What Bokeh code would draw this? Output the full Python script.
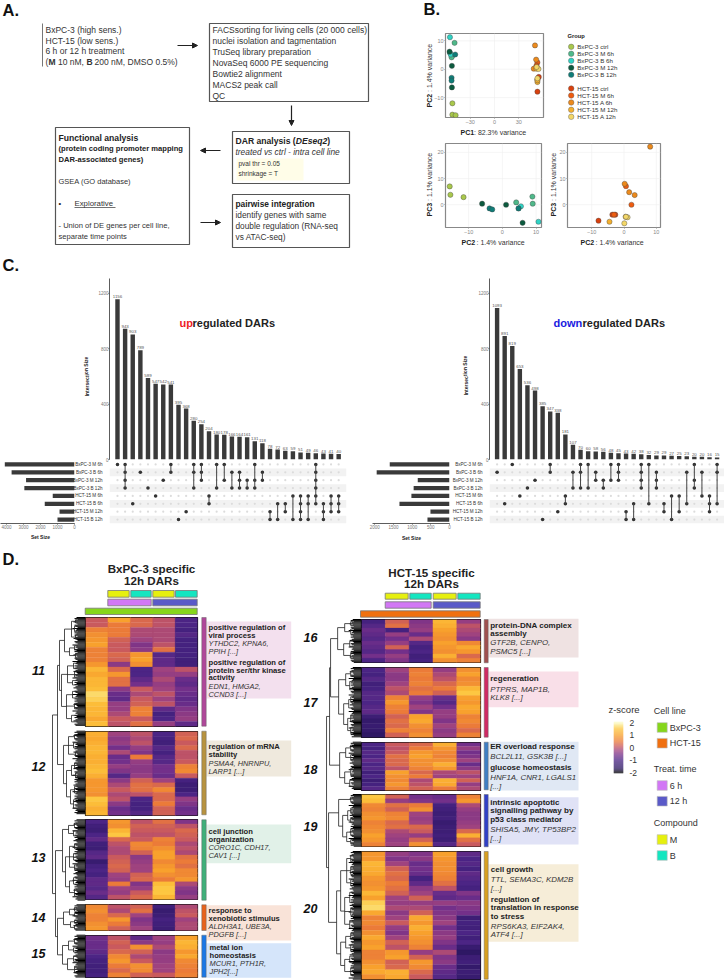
from bokeh.plotting import figure
from bokeh.layouts import column
from bokeh.models import Range1d, FixedTicker, LinearAxis, Arrow, NormalHead, LinearColorMapper, ColumnDataSource
from bokeh.core.properties import value
from bokeh.embed import file_html
from bokeh.resources import INLINE

FONT = "Liberation Sans"

# ---------- Panel B data ----------
groups = ["BxPC-3 ctrl", "BxPC-3 M 6h", "BxPC-3 B 6h", "BxPC-3 M 12h", "BxPC-3 B 12h",
          "HCT-15 ctrl", "HCT-15 M 6h", "HCT-15 A 6h", "HCT-15 M 12h", "HCT-15 A 12h"]
group_colors = ["#a9c84c", "#4fb98a", "#2fd3c5", "#0b5a3e", "#0f7d78",
                "#d8400e", "#ee5c10", "#ec8a1c", "#f4b02e", "#f3d768"]
pc1_x = [[-52, -52, -48], [-49.3, -52.6, -53], [-55, -55, -54], [-55.5, -52.6, -52.6], [-48.5, -53, -53],
         [54.7, 53, 53], [53, 51.8, 52], [50, 51.4, 48.5], [53, 51.8, 53], [54.3, 53, 52]]
pc1_y = [[-12, -16, -16.2], [9.3, 4.5, 4.2], [11.3, 5.8, 5.2], [6.2, 1.2, -6.4], [5.2, -3, -4],
         [-2.7, -3.6, -7.9], [2.4, 1.3, 0.6], [8.4, 3.4, 0.2], [-4.5, 0.2, -3.9], [0.1, -3.2, 0.8]]
pc2_x = [[-15.6, -15.4, -11.5], [4.1, 8.9, 9], [5.5, 4.8, 10.7], [-6, 1.1, 6], [-3.8, -3, 4.8]]
pc2_y = [[7, 3.8, 2.9], [0.9, 3.1, 0.4], [-0.6, -1.4, -6.5], [0.4, 0, -6.9], [-1.4, -1.8, -1.4]]
pc3_x = [[-7.9, -3.6, -2.7], [0.6, -3.1, 2.3], [8.1, 0.2, 1.6, 3.3], [-4.5, 0.5], [0.1, 1.1, 0.6]]
pc3_y = [[-6.1, -3.8, -3.8], [7.1, -3.8, 0], [22.2, 8, 4.8, 3.7], [-6.5, -4.6], [-7.1, -4.8, -4.6]]

# ---------- Panel C data ----------
up_values = [1156, 943, 903, 789, 589, 547, 542, 541, 395, 368, 280, 254, 204, 180, 178,
             166, 164, 161, 131, 118, 78, 72, 63, 59, 51, 49, 46, 43, 41, 40]
up_sets = [[0], [0, 1, 2, 3], [5], [1], [3], [4], [2], [0, 1], [7], [6], [0, 1, 3], [0, 1, 2], [4, 5], [0, 3], [0, 2],
           [1, 3], [1, 2, 3], [2, 3], [0, 2, 3], [1, 2], [6, 7], [5, 7], [5, 6], [4, 7], [4, 5, 6, 7], [4, 5, 7],
           [0, 1, 2, 3, 4, 5], [5, 6, 7], [4, 5, 6], [4, 5, 6]]
up_set_sizes = [4100, 3700, 2850, 2950, 1280, 1750, 880, 1000]
up_set_names = ["BxPC-3 M 6h", "BxPC-3 B 6h", "BxPC-3 M 12h", "BxPC-3 B 12h",
                "HCT-15 M 6h", "HCT-15 B 6h", "HCT-15 M 12h", "HCT-15 B 12h"]
down_values = [1093, 891, 819, 653, 536, 498, 385, 347, 338, 181, 107, 70, 60, 58, 56,
               48, 45, 43, 42, 38, 32, 29, 29, 27, 25, 23, 20, 20, 16, 15]
down_sets = [[1], [5], [0], [4], [3], [2], [7], [0, 1], [6], [4, 5], [1, 3], [0, 1, 3], [0, 3], [1, 2], [2, 3],
             [0, 2], [0, 1, 2], [6, 7], [5, 7], [0, 1, 2, 3], [0, 5], [1, 2, 3], [5, 6], [4, 7], [4, 6], [1, 5],
             [0, 2, 3], [1, 4], [4, 5, 6], [0, 1, 5]]
down_set_sizes = [1600, 1950, 850, 960, 1020, 1340, 510, 590]

# ---------- Panel D data (z-score x 10) ----------
heat_11 = [[1, 10, 3, 0, -10], [1, 5, 3, 0, -10], [6, 5, -1, -1, -11], [8, 5, -1, -1, -9], [9, 2, -2, -1, -11],
           [10, 1, -5, 0, -11], [6, 1, -4, 4, -11], [6, 3, 9, -9, -11], [6, 2, 10, -8, -12], [9, -4, 8, -8, -12],
           [13, 3, -10, -2, 0], [11, 9, -10, -3, -3], [13, 4, -8, -1, -7], [13, 4, -6, -3, -8], [14, -4, 1, -2, -6],
           [17, -7, -1, 0, -7], [16, -8, 1, -2, -8], [14, -3, 2, 0, -7], [13, -3, 6, -8, -5], [13, -1, 6, -11, -4],
           [11, 1, 1, -10, -3], [14, 0, 4, -3, -8]]
heat_12 = [[12, -2, 0, -10, 2], [11, -4, -1, -11, 3], [12, -3, 0, -12, 1], [13, -6, -3, -9, 3], [13, -1, -5, -11, 0],
           [12, -7, 5, -9, 0], [12, -6, -3, -9, 1], [13, -3, -4, -6, 6], [14, -5, -4, -6, 7], [12, -9, -3, -7, 1],
           [9, -4, 2, -2, -11], [9, -1, 4, 3, -13], [9, 1, 4, 7, -13], [8, -1, 0, 3, -10], [15, 0, -10, 3, -3],
           [14, -4, -11, 5, -5], [12, -7, -11, 2, -7], [13, -6, -9, 2, -6]]
heat_13 = [[-10, 9, 0, 4, -5], [-12, 8, 2, 2, 0], [-13, 13, 1, 1, 3], [-10, 15, 0, 0, 2], [-8, 3, 1, 6, 1],
           [-12, 0, 7, 5, -1], [-13, -1, 6, 8, 0], [-9, -1, 2, 10, -1], [-8, 1, -4, 10, 4], [-14, 2, -3, 7, 5],
           [-11, 3, -2, 9, 4], [-10, 2, -2, 10, 7], [-11, -2, 2, 8, 7], [-8, -3, 3, 5, 9], [-8, 5, -5, 14, -1],
           [-9, -2, -3, 15, -4], [-7, -3, 1, 15, -5], [-9, 0, 3, 13, -3]]
heat_14 = [[7, 0, 2, -12, -1], [8, -1, 4, -14, 0], [6, 3, -2, -13, 1], [6, 9, -5, -11, -2], [8, 5, -4, -12, -1],
           [9, 2, -2, -13, -1]]
heat_15 = [[-6, 0, -8, -2, 10], [-7, 2, -4, -3, 13], [-7, 1, 8, -1, 12], [-8, 3, 2, -4, 9], [-10, 7, -1, -3, 11],
           [-11, 9, 1, -3, 7], [-12, 5, 8, -2, 6], [-12, 3, 7, -2, 5], [-11, 6, 2, 1, 6]]
heat_16 = [[-11, 2, -5, 13, -3], [-9, 4, -4, 12, 0], [-7, -11, -3, 10, -1], [-8, -3, -7, 9, -2], [-9, -6, -1, 8, -4],
           [-7, -3, -9, 10, 7], [-8, 2, -11, 9, 11], [-9, -6, -10, 8, 9], [-6, -3, -12, 12, 3], [-10, -5, -11, 8, 6]]
heat_17 = [[-10, -2, 5, -3, 8], [-11, -4, 6, -1, 10], [-9, -4, 5, 0, 7], [-12, -2, 6, 3, 8], [-11, 0, 4, 5, 13],
           [-9, -1, 5, 2, 15], [-9, 6, -3, -7, 10], [-10, 9, -5, -9, 9], [-9, 6, -2, -6, 11], [-8, 5, -5, -3, 10],
           [-13, 2, 10, -3, 6], [-15, 4, 11, -5, 7], [-14, 3, 8, -2, 5], [-15, 6, 6, -4, 3], [-16, 2, 8, -3, 6]]
heat_18 = [[-10, 1, 3, 12, -6], [-11, 0, 5, 9, -3], [-9, 1, 9, 7, -6], [-10, 4, 10, 6, -5], [-8, 3, 8, 8, -2],
           [-10, 3, 8, 12, -7], [-9, 0, 6, 9, -4], [-12, 10, 3, -1, 0], [-10, 8, 5, -2, -2], [-13, 7, -1, 12, 2],
           [-11, 9, 0, 11, -3], [-9, 6, 2, 5, -1]]
heat_19 = [[15, 2, -6, -7, 6], [14, -3, -5, -6, 9], [7, 4, 5, -11, -1], [6, 2, 8, -12, -3], [8, 6, -2, -13, -4],
           [9, 7, -3, -12, -4], [6, 3, -2, -14, -3], [7, 4, 3, -13, -2], [8, -1, 1, -13, 3], [10, -2, -3, -12, 12],
           [9, -3, 2, -13, 4], [6, -2, 8, -9, 1]]
heat_20 = [[9, -3, -5, 10, -8], [9, -5, -4, 9, -10], [13, -2, -7, 8, -9], [12, 2, -6, 8, -11], [11, 4, -7, 7, -8],
           [9, 3, -11, 6, -9], [8, 5, -8, 4, -10], [9, 4, -4, 0, -11], [13, 2, -2, -7, -5], [10, -2, 2, -8, -7],
           [16, -3, -3, -3, -4], [17, -1, -1, -6, -5], [11, -4, 2, -5, -6], [6, -2, 11, -4, -13], [7, 1, 9, -2, -11],
           [5, -3, 12, -6, -12], [8, -5, 10, -4, -10], [11, -2, 9, -3, -12], [9, 2, 8, -5, -10], [10, 0, 6, -7, -14],
           [6, 9, -3, -1, -16], [6, 10, 2, -5, -13], [8, 2, 9, -4, -12], [10, 3, 7, -7, -15], [11, 12, 3, -8, -13],
           [8, 11, 1, -9, -14]]

tree_11 = (18, (13, (6, (2, .02, .05), (3, .08, .13), (2, .16, .2)), (8, (3, .26, .3), (2, .33, .37))),
           (16, (10, (4, .42, .47), (3, .5, .55), (5, .58, .62)), (11, (5, .68, .74), (3, .79, .84), (6, .9, .96))))
tree_12 = (14, (9, (3, .04, .09), (4, .14, .2), (2, .25, .3)), (11, (6, (3, .38, .44), (2, .5, .56)), (7, (3, .66, .74), (4, .82, .92))))
tree_13 = (15, (9, (3, .04, .1), (4, .14, .2)), (12, (8, (3, .3, .36), (4, .42, .5), (3, .56, .62)), (8, (4, .72, .8), (3, .86, .95))))
tree_14 = (14, (8, (3, .1, .25), (3, .33, .45)), (7, (3, .6, .72), (3, .82, .94)))
tree_15 = (15, (9, (3, .08, .2), (4, .3, .4)), (10, (4, .5, .62), (3, .74, .9)))
tree_16 = (16, (9, (3, .05, .14), (3, .22, .34)), (10, (4, .5, .62), (3, .76, .9)))
tree_17 = (15, (8, (3, .05, .13), (4, .2, .32)), (10, (5, (3, .42, .5), .58), (6, (3, .68, .78), (3, .86, .95))))
tree_18 = (14, (8, (3, .06, .18), (3, .26, .38)), (9, (3, .55, .7), (4, .8, .93)))
tree_19 = (15, (3, .05, .14), (11, (6, (3, .26, .36), (3, .44, .54)), (7, (3, .66, .78), (3, .86, .94))))
tree_20 = (17, (13, (7, (3, .03, .08), (3, .12, .18), (3, .22, .27)), (9, (4, .32, .4), (3, .44, .5), (4, .54, .6))),
            (13, (8, (3, .64, .69), (3, .73, .78)), (9, (4, .82, .87), (3, .91, .97))))
comb_lengths = [1, 3, 0, 2, 4, 1, 0, 3, 2, 0, 5, 1, 2, 0, 3]

left_clusters = [("11", 617, 725.7, heat_11, tree_11, "#b0479a"), ("12", 730.7, 814.3, heat_12, tree_12, "#b8933f"),
                 ("13", 819.3, 899.7, heat_13, tree_13, "#3fb07a"), ("14", 904.3, 930, heat_14, tree_14, "#e8621c"),
                 ("15", 934.7, 976.7, heat_15, tree_15, "#1a78e6")]
right_clusters = [("16", 619, 662.3, heat_16, tree_16, "#a05050"), ("17", 667, 736.7, heat_17, tree_17, "#d02a64"),
                  ("18", 741.7, 789.3, heat_18, tree_18, "#3f7fc4"), ("19", 794, 846.3, heat_19, tree_19, "#3040c8"),
                  ("20", 851, 978.7, heat_20, tree_20, "#d8a020")]

heat_stops = [(-2.0, "#000004"), (-1.7, "#2a1660"), (-1.0, "#4b2585"), (-0.6, "#74308a"), (-0.2, "#a0437f"),
              (0.1, "#c8595f"), (0.5, "#ea7a3a"), (1.0, "#f89f2c"), (1.5, "#fdc43c"), (1.8, "#fce27c"), (2.0, "#fcfbc8")]

legend_z_ticks = [2, 1, 0, -1, -2]
C_YELLOW, C_TEAL, C_PINK, C_BLUE, C_GREEN, C_ORANGE = "#e6f00f", "#14e6c0", "#d277f5", "#5a5ac8", "#86d61b", "#f07010"


def make_palette(stops, n=128):
    out = []
    for i in range(n):
        v = -2 + 4 * i / (n - 1)
        for (a, ca), (b, cb) in zip(stops, stops[1:]):
            if a <= v <= b:
                t = (v - a) / (b - a)
                rgb = [round(int(ca[k:k + 2], 16) * (1 - t) + int(cb[k:k + 2], 16) * t) for k in (1, 3, 5)]
                out.append("#%02x%02x%02x" % tuple(rgb))
                break
    return out


PALETTE = make_palette(heat_stops)
MAPPER = LinearColorMapper(palette=PALETTE, low=-2, high=2)
figs = []


def panel(x0, y0, x1, y1, xr, yr, outline=None, outline_w=1):
    # borders are transparent and wide enough for axes; the frame sits on x0..x1, y0..y1
    l, r, t, b = 40, 20, 20, 20
    f = figure(width=round(x1 - x0) + l + r, height=round(y1 - y0) + t + b,
               x_range=Range1d(*xr), y_range=Range1d(*yr),
               output_backend="svg", toolbar_location=None, tools="",
               x_axis_type=None, y_axis_type=None,
               min_border_left=l, min_border_right=r, min_border_top=t, min_border_bottom=b,
               background_fill_color=None, border_fill_color=None,
               outline_line_color=outline, outline_line_width=outline_w,
               styles={"position": "absolute", "left": f"{x0 - l}px", "top": f"{y0 - t}px"})
    f.grid.visible = False
    figs.append(f)
    return f


# ---------- page-level canvases for the schematic and text (four overlapping tiles) ----------
tile_tl = panel(0, 0, 600, 560, (0, 600), (560, 0))
tile_tr = panel(540, 0, 724, 560, (540, 724), (560, 0))
tile_bl = panel(0, 540, 600, 980, (0, 600), (980, 540))
tile_br = panel(540, 540, 724, 980, (540, 724), (980, 540))


def pg_at(x, y):
    if y < 540:
        return tile_tl if x <= 540 else tile_tr
    return tile_bl if x <= 540 else tile_br


def txt(x, y, s, size=8, style="normal", color="#222222", align="left", angle=0):
    pg_at(x, y).text([x], [y], text=[s], text_font=value(FONT), text_font_size=value(f"{size}px"), text_font_style=style,
                     text_color=color, text_align=align, text_baseline="middle", angle=angle)


def box(x0, y0, x1, y1, fill=None, line="#555555", lw=1.2):
    pg_at(x0, y0).quad(left=[x0], right=[x1], top=[y0], bottom=[y1], fill_color=fill, line_color=line, line_width=lw)


def arrow(x0, y0, x1, y1):
    pg_at(x0, y0).add_layout(Arrow(end=NormalHead(size=5, fill_color="#222222", line_color="#222222"),
                                   x_start=x0, y_start=y0, x_end=x1, y_end=y1, line_color="#222222", line_width=1.2))


for lab, x, y in [("A.", 2, 9), ("B.", 423, 8), ("C.", 2, 264), ("D.", 2, 558)]:
    txt(x, y, lab, 16.5, "bold", "#111111")

# Panel A
tile_tl.segment([42], [23], [42], [66], line_color="#777777", line_width=1)
for s, y in [("BxPC-3 (high sens.)", 29), ("HCT-15 (low sens.)", 40), ("6 h or 12 h treatment", 50)]:
    txt(45, y, s, 8.5, color="#333333")
for s, x, st in [("(", 45, "normal"), ("M", 48, "bold"), ("10 nM,", 57.5, "normal"), ("B", 86, "bold"),
                 ("200 nM, DMSO 0.5%)", 94, "normal")]:
    txt(x, 61, s, 8.5, st, "#333333")
arrow(177, 45, 197, 45)
box(209, 23, 368, 101)
for s, y in [("FACSsorting for living cells (20 000 cells)", 29.5), ("nuclei isolation and tagmentation", 40.5),
             ("TruSeq library preparation", 51.5), ("NovaSeq 6000 PE sequencing", 62.5), ("Bowtie2 alignment", 73.5),
             ("MACS2 peak call", 84.5), ("QC", 95.5)]:
    txt(212, y, s, 8.5, color="#333333")
arrow(291, 105, 291, 125)
box(55, 127, 189, 244)
txt(58, 137, "Functional analysis", 8.6, "bold")
for s, y in [("(protein coding promoter mapping", 148), ("DAR-associated genes)", 159)]:
    txt(58, y, s, 7.6, "bold")
txt(58, 181, "GSEA (GO database)", 7.5, color="#333333")
txt(58, 203, "•", 7.5)
txt(74, 203, "Explorative", 7.8, color="#333333")
tile_tl.segment([74], [207], [115], [207], line_color="#333333", line_width=0.7)
txt(58, 225, "- Union of DE genes per cell line,", 7.6, color="#333333")
txt(58, 236, "separate time points", 7.6, color="#333333")
arrow(220, 150, 200, 150)
box(232, 131, 349, 183)
txt(235, 140, "DAR analysis (", 8.6, "bold")
txt(295.3, 140, "DEseq2", 8.6, "bold italic")
txt(326.8, 140, ")", 8.6, "bold")
txt(235, 151, "treated vs ctrl - intra cell line", 8.4, "italic", "#333333")
box(236, 158, 303, 180, fill="#fffde8", line=None)
txt(238, 163, "pval thr = 0.05", 6.5, color="#333333")
txt(238, 173, "shrinkage = T", 6.5, color="#333333")
arrow(200, 222, 220, 222)
box(232, 194, 349, 247)
txt(235, 203, "pairwise integration", 8.4, "bold")
for s, y in [("identify genes with same", 214), ("double regulation (RNA-seq", 225), ("vs ATAC-seq)", 236)]:
    txt(235, y, s, 8.3, color="#333333")

# Panel B labels
txt(567, 35, "Group", 5.8, "bold")
leg_y = [46.3, 53.3, 60.3, 67.3, 74.3, 88, 95, 102, 109.3, 116.3]
for g, c, y in zip(groups, group_colors, leg_y):
    tile_tr.scatter([570.7], [y], size=5.5, fill_color=c, line_color="#555555", line_width=0.4)
    txt(576.7, y, g, 6.2, color="#333333")


def rich_v(x, y_bottom, bold, rest, split, size=7.0):
    txt(x, y_bottom, bold, size, "bold", angle=1.5708)
    txt(x, y_bottom - split, rest, size, color="#333333", angle=1.5708)


def rich_h(x, y, bold, rest, split, size=7.0):
    txt(x, y, bold, size, "bold")
    txt(x + split, y, rest, size, color="#333333")


rich_v(429, 107, "PC2", ": 1.4% variance", 15.5)
rich_h(460, 132, "PC1", ": 82.3% variance", 13.5)
rich_v(429, 216, "PC3", ": 1.1% variance", 15.5)
rich_h(461, 241.5, "PC2", ": 1.4% variance", 15)
rich_v(553, 216, "PC3", ": 1.1% variance", 15.5)
rich_h(580, 241.5, "PC2", ": 1.4% variance", 15)


def pca(x0, y0, x1, y1, xr, yr, xs, ys, colors, xt, yt):
    f = panel(x0, y0, x1, y1, xr, yr, outline="#888888", outline_w=1.2)
    xa = LinearAxis(ticker=FixedTicker(ticks=xt))
    ya = LinearAxis(ticker=FixedTicker(ticks=yt))
    for a in (xa, ya):
        a.major_label_text_font_size = "5.5px"
        a.major_label_text_color = "#888888"
        a.major_label_text_font = FONT
        a.axis_line_color = None
        a.major_tick_line_color = "#888888"
        a.major_tick_out = 1
        a.major_tick_in = 0
        a.minor_tick_line_color = None
        a.major_label_standoff = 1
    f.add_layout(xa, "below")
    f.add_layout(ya, "left")
    f.segment(xt, [yr[0]] * len(xt), xt, [yr[1]] * len(xt), line_color="#eeeeee", line_width=0.6)
    f.segment([xr[0]] * len(yt), yt, [xr[1]] * len(yt), yt, line_color="#eeeeee", line_width=0.6)
    for gx, gy, c in zip(xs, ys, colors):
        f.scatter(gx, gy, size=5.2, fill_color=c, line_color="#444444", line_width=0.4)


pca(444.7, 33, 542.7, 117, (-60.5, 60.5), (-17, 12.6), pc1_x, pc1_y, group_colors, [-30, 0, 30], [-10, 0, 10])
pca(445.3, 143.3, 541.7, 227.3, (-16.85, 11.6), (-8.7, 23.4), pc2_x, pc2_y, group_colors[:5], [-10, 0, 10], [0, 10, 20])
pca(567, 143.3, 660.3, 227.3, (-17.5, 11.3), (-8.7, 23.4), pc3_x, pc3_y, group_colors[5:], [-10, 0, 10], [0, 10, 20])


# Panel C
def upset(values, sets, sizes, names, ax_x, end_x, first_x, step, set_left, set_right, px_per_1000, set_ticks):
    xr = ((ax_x - first_x) / step, (end_x - first_x) / step)
    idx = list(range(len(values)))
    y0, y1 = 278.0, 458.7
    top = (y1 - y0) / 0.1383
    f = panel(ax_x, y0, end_x, y1, xr, (0, top))
    a = LinearAxis(ticker=FixedTicker(ticks=[0, 400, 800, 1200]))
    a.major_label_text_font_size = "4.5px"
    a.major_label_text_color = "#777777"
    a.major_label_text_font = FONT
    a.axis_line_color = "#333333"
    a.axis_line_width = 0.8
    a.major_tick_line_color = "#555555"
    a.major_tick_out = 1
    a.major_tick_in = 0
    a.minor_tick_line_color = None
    a.major_label_standoff = 0
    f.add_layout(a, "left")
    f.vbar(x=idx, top=values, width=0.58, bottom=0, fill_color="#3a3a3a", line_color=None)
    f.text(idx, values, text=[str(v) for v in values], text_font=value(FONT), text_font_size=value("4.4px"),
           text_color="#555555", text_align="center", text_baseline="bottom", y_offset=-1)

    m = panel(ax_x, 460.3, end_x, 523.7, xr, (7.5, -0.5))
    a = LinearAxis(ticker=FixedTicker(ticks=list(range(8))),
                   major_label_overrides={i: n for i, n in enumerate(names)})
    a.major_label_text_font_size = "4.6px"
    a.major_label_text_color = "#333333"
    a.major_label_text_font = FONT
    a.axis_line_color = None
    a.major_tick_line_color = None
    a.minor_tick_line_color = None
    a.major_label_standoff = 1
    m.add_layout(a, "left")
    m.hbar(y=[1, 3, 5, 7], left=xr[0], right=xr[1], height=1, fill_color="#f2f2f2", line_color=None)
    for i, s in enumerate(sets):
        rows = list(range(8))
        m.scatter([i] * 8, rows, size=2.2, fill_color="#dcdcdc", line_color=None)
        m.scatter([i] * len(s), s, size=3.6, fill_color="#333333", line_color=None)
        if len(s) > 1:
            m.segment([i], [min(s)], [i], [max(s)], line_color="#444444", line_width=1)

    b = panel(set_left, 460.3, set_right, 523.7, ((set_right - set_left) / px_per_1000 * 1000, 0), (7.5, -0.5))
    a = LinearAxis(ticker=FixedTicker(ticks=set_ticks))
    a.major_label_text_font_size = "4.5px"
    a.major_label_text_color = "#777777"
    a.major_label_text_font = FONT
    a.axis_line_color = "#333333"
    a.axis_line_width = 0.8
    a.major_tick_line_color = "#555555"
    a.major_tick_out = 1
    a.major_tick_in = 0
    a.minor_tick_line_color = None
    a.major_label_standoff = 0
    b.add_layout(a, "below")
    b.hbar(y=list(range(8)), left=0, right=sizes, height=0.55, fill_color="#3a3a3a", line_color=None)


upset(up_values, up_sets, up_set_sizes, up_set_names, 109.3, 346.7, 117.3, 7.64, 0, 74,
      17.0, [0, 1000, 2000, 3000, 4000])
upset(down_values, down_sets, down_set_sizes, up_set_names, 488.7, 723.7, 496.3, 7.586, 372, 448.7,
      37.2, [0, 500, 1000, 1500, 2000])

txt(86, 376, "Intersection Size", 5, "bold", align="center", angle=1.5708)
txt(465, 375, "Intersection Size", 5, "bold", align="center", angle=1.5708)
txt(40, 536.7, "Set Size", 5, "bold", align="center")
txt(411, 537, "Set Size", 5, "bold", align="center")
txt(179, 322.3, "up", 11, "bold", "#ee1c25")
txt(192, 322.3, "regulated DARs", 11, "bold")
txt(553, 322.3, "down", 11, "bold", "#1a1ae0")
txt(582, 322.3, "regulated DARs", 11, "bold")

# Panel D
txt(151, 568.3, "BxPC-3 specific", 11.6, "bold", align="center")
txt(151, 580, "12h DARs", 11.6, "bold", align="center")
txt(431, 571.7, "HCT-15 specific", 11.6, "bold", align="center")
txt(431, 583.3, "12h DARs", 11.6, "bold", align="center")

for x0, x1, c in [(107.3, 128.7, C_YELLOW), (130.3, 150.7, C_TEAL), (152.3, 173.7, C_YELLOW), (175, 196.7, C_TEAL)]:
    box(x0, 590, x1, 596.7, fill=c, line="#777777", lw=0.8)
for x0, x1, c in [(107.3, 150.7, C_PINK), (152.3, 196.7, C_BLUE)]:
    box(x0, 598.7, x1, 605.3, fill=c, line="#777777", lw=0.8)
box(84.7, 607.7, 196.7, 614, fill=C_GREEN, line="#777777", lw=0.8)
for x0, x1, c in [(384.7, 407.7, C_YELLOW), (409.3, 430.7, C_TEAL), (432.7, 455.7, C_YELLOW), (457.3, 479.7, C_TEAL)]:
    box(x0, 592.7, x1, 598.7, fill=c, line="#777777", lw=0.8)
for x0, x1, c in [(384.7, 430.7, C_PINK), (432.7, 479.7, C_BLUE)]:
    box(x0, 601.3, x1, 607.7, fill=c, line="#777777", lw=0.8)
box(360, 610.3, 479.7, 616.7, fill=C_ORANGE, line="#777777", lw=0.8)

for y0, y1, c in [(621, 698, "#f3e0ee"), (740, 776, "#efe9dd"), (824, 862.7, "#e1f1e8"), (904.7, 940, "#f9e3d8"),
                  (942.7, 977.3, "#d5e5fa")]:
    box(206, y0, 290.7, y1, fill=c, line=None)
for y0, y1, c in [(618.3, 657, "#efe2e2"), (671, 706.7, "#f9dfe8"), (741.3, 790, "#e0e8f4"), (796.7, 844, "#e0e2f6"),
                  (863.7, 941.3, "#f6edd8")]:
    box(488, y0, 578, y1, fill=c, line=None)

left_terms = [
    (208, 627.3, "positive regulation of", 1), (208, 635.3, "viral process", 1), (208, 643.3, "YTHDC2, KPNA6,", 0),
    (208, 651.3, "PPIH [...]", 0), (208, 661.7, "positive regulation of", 1), (208, 669.7, "protein ser/thr kinase", 1),
    (208, 677.3, "activity", 1), (208, 685.7, "EDN1, HMGA2,", 0), (208, 693.7, "CCND3 [...]", 0),
    (208, 745.7, "regulation of mRNA", 1), (208, 753.7, "stability", 1), (208, 762.7, "PSMA4, HNRNPU,", 0),
    (208, 770.7, "LARP1 [...]", 0), (208, 831, "cell junction", 1), (208, 839, "organization", 1),
    (208, 847, "CORO1C, CDH17,", 0), (208, 855, "CAV1 [...]", 0), (208, 910.3, "response to", 1),
    (208, 918.3, "xenobiotic stimulus", 1), (208, 926.3, "ALDH3A1, UBE3A,", 0), (208, 934.3, "PDGFB [...]", 0),
    (209, 947, "metal ion", 1), (209, 955, "homeostasis", 1), (209, 963.3, "MCUR1, PTH1R,", 0), (209, 971.3, "JPH2[...]", 0)]
right_terms = [
    (489.7, 624.7, "protein-DNA complex", 1), (489.7, 632.7, "assembly", 1), (489.7, 642, "GTF2B, CENPO,", 0),
    (489.7, 650.7, "PSMC5 [...]", 0), (489.7, 677.7, "regeneration", 1), (489.7, 688.7, "PTPRS, MAP1B,", 0),
    (489.7, 697, "KLK8 [...]", 0), (489.7, 746.3, "ER overload response", 1), (489.7, 755.7, "BCL2L11, GSK3B [...]", 0),
    (489.7, 767.3, "glucose homeostasis", 1), (489.7, 777.3, "HNF1A, CNR1, LGALS1", 0), (489.7, 786, "[...]", 0),
    (489.7, 802.3, "intrinsic apoptotic", 1), (489.7, 810.3, "signalling pathway by", 1), (489.7, 818.7, "p53 class mediator", 1),
    (489.7, 829, "SHISA5, JMY, TP53BP2", 0), (489.7, 837.7, "[...]", 0), (490.3, 869.3, "cell growth", 1),
    (490.3, 879.3, "TTL, SEMA3C, KDM2B", 0), (490.3, 887.7, "[...]", 0), (490.3, 899.3, "regulation of", 1),
    (490.3, 907.3, "translation in response", 1), (490.3, 915.7, "to stress", 1), (490.3, 926, "RPS6KA3, EIF2AK4,", 0),
    (490.3, 934.3, "ATF4 [...]", 0)]
for x, y, s, b in left_terms:
    txt(x, y, s, 7.6 if b else 7.4, "bold" if b else "italic", "#222222" if b else "#333333")
for x, y, s, b in right_terms:
    txt(x, y, s, 8 if b else 7.9, "bold" if b else "italic", "#222222" if b else "#333333")

for lab, x, y in [("11", 38, 670), ("12", 38, 766), ("13", 38, 857.3), ("14", 38, 917.3), ("15", 38, 953.3),
                  ("16", 310, 637.3), ("17", 310, 702.3), ("18", 310, 769), ("19", 310, 825.7), ("20", 310, 907.7)]:
    txt(x, y, lab, 12.5, "bold italic", "#111111", align="center")


def heat(clusters, x0, x1):
    for lab, y0, y1, data, tree, col in clusters:
        n = len(data)
        f = panel(x0, y0, x1, y1, (0, 5), (n, 0), outline="#111111", outline_w=1.2)
        xs, ys, vs = [], [], []
        for r, row in enumerate(data):
            for c, v in enumerate(row):
                xs.append(c + 0.5)
                ys.append(r + 0.5)
                vs.append(v / 10)
        src = ColumnDataSource({"x": xs, "y": ys, "v": vs})
        f.rect(x="x", y="y", width=1, height=1, dilate=True, source=src,
               fill_color={"field": "v", "transform": MAPPER},
               line_color={"field": "v", "transform": MAPPER}, line_width=0.3)


heat(left_clusters, 85, 196.7)
heat(right_clusters, 360.7, 480)
for lab, y0, y1, d, t, c in left_clusters:
    box(201.3, y0, 205.7, y1, fill=c, line="#666666", lw=0.5)
for lab, y0, y1, d, t, c in right_clusters:
    box(483.7, y0, 487.7, y1, fill=c, line="#666666", lw=0.5)


def dendro(clusters, top_shape, x0, comb_x, heat_x, ytop, ybot):
    f = panel(x0, ytop, heat_x, ybot, (comb_x - x0, comb_x - heat_x), (ybot, ytop))
    sx0, sy0, sx1, sy1 = [], [], [], []

    def join(h, kids):
        for kh, ky in kids:
            sx0.append(kh); sy0.append(ky); sx1.append(h); sy1.append(ky)
        sx0.append(h); sy0.append(min(k[1] for k in kids)); sx1.append(h); sy1.append(max(k[1] for k in kids))
        return h, sum(k[1] for k in kids) / len(kids)

    def walk(node, a, b):
        if isinstance(node, (int, float)):
            return 0, a + node * (b - a)
        return join(node[0], [walk(k, a, b) for k in node[1:]])

    tops = {}
    for lab, y0, y1, d, tree, c in clusters:
        tops[lab] = walk(tree, y0, y1)
        lx0, ly, lx1 = [], [], []
        y = y0
        i = 0
        while y < y1:
            lx0.append(comb_x - heat_x)
            lx1.append(comb_lengths[i % len(comb_lengths)])
            ly.append(y)
            y += 1.1
            i += 1
        f.segment(lx0, ly, lx1, ly, line_color="#000000", line_width=1)

    def top(node):
        if isinstance(node, str):
            return tops[node]
        return join(node[0], [top(k) for k in node[1:]])

    top(top_shape)
    f.segment(sx0, sy0, sx1, sy1, line_color="#222222", line_width=0.8)


dendro(left_clusters, (25, (20, "11", "12"), (22, "13", (20, "14", "15"))), 42, 77, 85, 615, 979)
dendro(right_clusters, (27, (24, (23, "16", "17"), "18"), (25, "19", "20")), 320, 353, 360.7, 617, 980)

# Legends
txt(623.5, 709.3, "z-score", 9.5, align="center", color="#333333")
cb = panel(612.7, 720.7, 622.7, 772.7, (0, 1), (-2.08, 2.08))
lv = [-2.08 + 4.16 * (i + 0.5) / 52 for i in range(52)]
cb.rect(x=0.5, y="v", width=1, height=4.16 / 52, dilate=True, source=ColumnDataSource({"v": lv}),
        fill_color={"field": "v", "transform": MAPPER}, line_color=None)
a = LinearAxis(ticker=FixedTicker(ticks=legend_z_ticks), major_label_overrides={-1: "-1", -2: "-2"})
a.major_label_text_font_size = "8.5px"
a.major_label_text_font = FONT
a.major_label_text_color = "#333333"
a.axis_line_color = None
a.major_tick_line_color = None
a.minor_tick_line_color = None
a.major_label_standoff = 0
cb.add_layout(a, "right")

for s, y in [("Cell line", 710), ("Treat. time", 768), ("Compound", 822.3)]:
    txt(653.3, y, s, 9, color="#333333")
for s, y, c in [("BxPC-3", 727, C_GREEN), ("HCT-15", 742.7, C_ORANGE), ("6 h", 785, C_PINK), ("12 h", 800.7, C_BLUE),
                ("M", 839, C_YELLOW), ("B", 855, C_TEAL)]:
    box(656.7, y - 4.8, 666.7, y + 4.8, fill=c, line="#bbbbbb", lw=0.6)
    txt(669.3, y, s, 9, color="#333333")

root = column(*figs, width=724, height=980,
              styles={"position": "absolute", "left": "0px", "top": "0px", "overflow": "hidden"})
open("out.html", "w").write(file_html(root, INLINE))
